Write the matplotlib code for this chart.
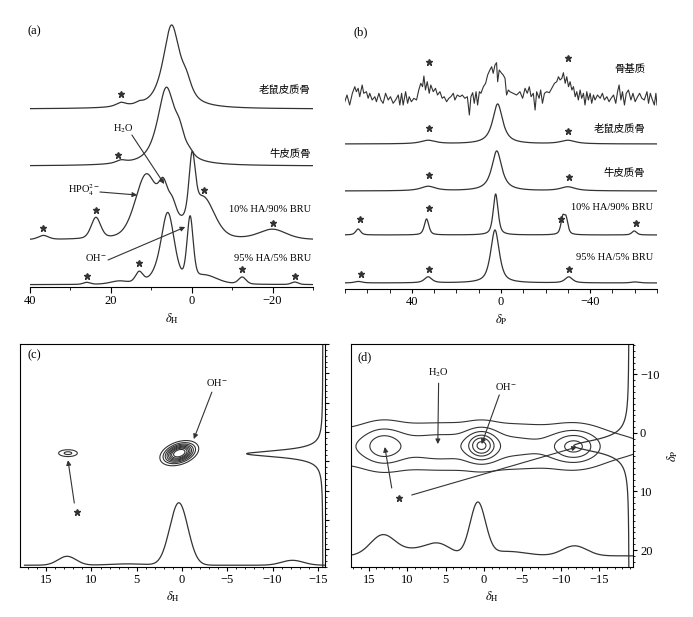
import numpy as np
import matplotlib.pyplot as plt
from matplotlib import transforms
from matplotlib.ticker import MultipleLocator, FixedLocator

plt.rcParams['font.family'] = ['Liberation Serif', 'Noto Sans CJK SC']
plt.rcParams['mathtext.fontset'] = 'stix'

LINE = '#333333'
W, H = 693, 617

# ---------------- (a) 1H MAS spectra, peaks = (shift, height, half width)
a_names = ['老鼠皮质骨', '牛皮质骨', '10% HA/90% BRU', '95% HA/5% BRU']
a_base = [178, 121, 47, 2.3]
a_eta = [0.8, 0.8, 0.3, 0.3]
a_peaks = [
    [(5.0, 82, 2.5), (1.3, 15, 1.6), (17.5, 4, 1.5), (13.0, 2, 1.0)],
    [(6.3, 76, 2.6), (3.0, 18, 1.5), (0.5, 4, 1.2), (17.5, 3, 1.5)],
    [(36.7, 4, 1.5), (23.7, 21, 1.4), (11.3, 60, 3.2), (7.0, 30, 1.3), (4.8, 18, 1.2),
     (4.0, 12, 6.0), (-0.1, 58, 0.9), (-3.0, 36, 3.2), (-20.0, 10, 4.0)],
    [(26.0, 2, 1.0), (18.0, 3, 2.5), (13.0, 11, 1.1), (9.0, 6, 2.0), (5.9, 70, 1.9),
     (0.4, 63, 0.9), (-3.5, 8, 3.5), (-12.5, 7, 1.1), (-25.5, 2.5, 1.0)],
]
a_stars = [(17.5, 193), (18.2, 132), (36.8, 59), (23.7, 77), (-3.1, 97), (-20.0, 64),
           (25.9, 11), (13.0, 24), (-12.5, 18), (-25.6, 11)]
a_label_y = [197, 133, 77, 28]

# ---------------- (b) 31P MAS spectra
b_names = ['骨基质', '老鼠皮质骨', '牛皮质骨', '10% HA/90% BRU', '95% HA/5% BRU']
b_base = [191, 145, 98, 54, 6]
b_eta = [0.9, 0.9, 0.6, 0.7]
b_peaks = [
    [(1.5, 40, 2.7), (32.7, 3.5, 4.0), (-30.0, 3.5, 4.0)],
    [(1.9, 40, 2.7), (32.7, 4.5, 4.0), (-30.0, 4.0, 4.0)],
    [(2.4, 41, 1.3), (33.4, 16, 1.2), (-27.7, 16, 1.0), (-29.2, 15, 1.0),
     (64.1, 6, 1.3), (-59.8, 4, 1.3)],
    [(2.7, 53, 2.3), (32.7, 6, 2.0), (-30.4, 6, 2.0), (64.0, 1.5, 2.0), (-60.0, 1, 2.0)],
]
# noisy bone matrix trace read point by point
bm_shift = [70.1, 69.1, 67.9, 66.7, 65.6, 64.9, 64.1, 63.4, 62.3, 61.6, 60.4, 59.6, 58.9,
            57.8, 56.6, 55.9, 54.8, 53.9, 52.9, 51.8, 50.6, 49.6, 48.4, 47.3, 46.1, 45.4,
            44.6, 43.9, 42.8, 41.9, 41.2, 40.2, 39.1, 37.9, 36.9, 36.0, 35.2, 34.6, 33.9,
            33.1, 32.2, 31.5, 30.4, 29.4, 28.5, 27.4, 26.4, 25.5, 24.4, 23.4, 22.5, 21.4,
            20.7, 19.6, 18.4, 17.4, 16.2, 15.1, 14.2, 13.5, 12.7, 12.0, 11.2, 10.5, 9.7,
            9.0, 7.9, 6.9, 6.0, 5.0, 4.2, 3.5, 2.7, 2.0, 1.5, 0.8, -0.3, -1.0, -1.8, -2.5,
            -3.3, -4.0, -5.5, -7.0, -8.5, -9.7, -10.8, -11.8, -12.7, -13.5, -14.5, -15.3,
            -16.0, -17.1, -17.8, -18.6, -19.5, -20.5, -21.7, -22.8, -24.0, -25.0, -25.8,
            -26.5, -27.3, -28.0, -28.8, -29.5, -30.3, -31.0, -31.8, -32.5, -33.3, -34.0,
            -34.7, -35.5, -36.2, -37.0, -37.7, -38.5, -39.2, -40.0, -40.7, -41.5, -42.2,
            -43.3, -44.5, -45.5, -46.4, -47.5, -48.5, -49.4, -50.5, -51.5, -52.3, -53.0,
            -53.8, -54.5, -55.4, -56.2, -57.2, -58.3, -59.2, -60.2, -61.3, -62.2, -63.2,
            -64.3, -65.5, -66.2, -67.0, -67.7, -68.8, -69.5, -70.0]
bm_int = [-3.7, 3, -7, 4.7, 11.3, 6.3, 9.7, 1.3, 13, 4.7, 6.3, -0.3, 4.7, -2, 1.3, -3.7,
          4.7, -2, -5.3, 4.7, -2, 1.3, -5.3, -2, 3, -7, 4.7, -7, 6.3, -5.3, 1.3, -3.7, -0.3,
          -2, 8, 14.7, 11.3, 22, 8, 16.3, 4.7, 13, 6.3, 9.7, 3, 6.3, -0.3, 1.3, -3.7, -0.3,
          1.3, 4.7, -2, 3, 1.3, 3, -0.3, 1.3, -17, 1.3, 5.3, -5.3, 6.3, -7, 6.3, 4.7, 11.3,
          14.7, 23, 28, 31.3, 24.7, 33, 35.3, 16.3, 28, 24.7, 23, 19.7, 3, 8, 6.3, 4.7, 3,
          6.3, -0.3, 9.7, 4.7, 11.3, 1.3, 4.7, -12, 6.3, -0.3, 8, -5.3, 4.7, 6.3, 5.3, 9.7,
          14.7, 16.3, 21.3, 18, 19.7, 25.3, 14.7, 21.3, 11.3, 16.3, 8, 11.3, 1.3, 6.3, -2,
          8, -0.3, 4.7, -7, 6.3, -2, 4.7, -5.3, 3, -2, 3, -0.3, 4.7, -2, 1.3, -3.7, -0.3, 3,
          -5.3, 6.3, 13, -2, 6.3, -7, 4.7, 8, -2, 4.7, -3.7, 1.3, 4.7, -0.3, -2, 6.3, -5.3,
          4.7, -0.3, -7, 4.7, -7]
b_stars = [(32.2, 227), (-30.1, 231), (32.2, 161), (-30.1, 158), (32.2, 114), (-30.5, 112),
           (63.1, 70), (32.4, 81), (-26.8, 70), (-60.5, 66), (62.8, 15), (32.2, 20), (-30.3, 20)]
b_label_y = [220, 160, 116, 82, 31]

# ---------------- (c) 1H-1H 2D map: (dH, dP, sH, sP, rho, amp)
c_spots = [(0.3, 3.6, 1.0, 1.0, 0.35, 1.0), (12.6, 3.6, 0.8, 0.45, 0.0, 0.23)]
c_levels = [0.1, 0.2, 0.3, 0.4, 0.5, 0.6, 0.7, 0.82]
c_proj_h = [(0.35, 0.28, 1.0), (12.7, 0.04, 1.0), (-12.2, 0.022, 1.2), (6.0, 0.006, 2.0)]
c_proj_p = (3.7, 0.25, 0.7)

# ---------------- (d) 1H-31P HETCOR
d_ridge = (3.0, 2.3, 14.0, 2.4, 0.42)
d_spots = [(13.1, 2.2, 1.7, 2.2, 0.0, 0.35), (0.3, 2.1, 1.3, 1.75, 0.0, 0.65),
           (-11.8, 2.3, 1.9, 1.8, 0.0, 0.55), (6.0, 2.8, 1.5, 1.5, 0.0, 0.04)]
d_levels = [0.1, 0.3, 0.5, 0.7, 0.85, 1.0]
d_proj_h = [(13.2, 0.09, 1.6), (8.5, 0.03, 2.5), (5.8, 0.04, 1.5), (0.8, 0.235, 1.0),
            (-3.0, 0.02, 2.5), (-11.8, 0.045, 1.6)]
d_proj_p = (2.2, 0.196, 1.3)


def pv(x, peaks, eta):
    y = np.zeros_like(x)
    for c, h, w in peaks:
        d = (x - c) / w
        y += h * (eta / (1 + d ** 2) + (1 - eta) * np.exp(-np.log(2) * d ** 2))
    return y


def gsum(x, peaks):
    y = np.zeros_like(x)
    for c, h, s in peaks:
        y += h * np.exp(-(x - c) ** 2 / (2 * s ** 2))
    return y


def spot(hh, pp, h0, p0, sh, sp, rho, amp):
    u = (hh - h0) / sh
    v = (pp - p0) / sp
    return amp * np.exp(-(u * u - 2 * rho * u * v + v * v) / (2 * (1 - rho ** 2)))


def px_axes(l, t, r, b):
    return fig.add_axes([l / W, 1 - b / H, (r - l) / W, (b - t) / H])


def arrow(ax, xy_from, xy_to):
    ax.annotate('', xy=xy_to, xytext=xy_from,
                arrowprops=dict(arrowstyle='-|>', color=LINE, lw=0.8,
                                mutation_scale=7, shrinkA=0, shrinkB=0))


fig = plt.figure(figsize=(W / 100, H / 100), dpi=100)

# ---- (a)
ax = px_axes(30, 20, 313, 287)
x = np.linspace(40, -30, 1400)
for base, eta, pk in zip(a_base, a_eta, a_peaks):
    ax.plot(x, base + pv(x, pk, eta), color=LINE, lw=0.9)
for (sx, sy) in a_stars:
    ax.plot(sx, sy, marker='*', color=LINE, ms=4.5)
for name, ly in zip(a_names, a_label_y):
    ax.text(-29.5, ly, name, ha='right', va='center', fontsize=7.5)
ax.text(16.9, 158, 'H$_2$O', ha='center', va='center', fontsize=7.5)
arrow(ax, (14.8, 152), (6.8, 103))
ax.text(26.6, 97, 'HPO$_4^{2-}$', ha='center', va='center', fontsize=7.5)
arrow(ax, (22.7, 95), (13.5, 92))
ax.text(23.7, 29, 'OH$^{-}$', ha='center', va='center', fontsize=7.5)
arrow(ax, (20.7, 27), (1.6, 60))
ax.set_xlim(40, -30)
ax.set_ylim(0, 267)
for s in ['top', 'left', 'right']:
    ax.spines[s].set_visible(False)
ax.set_yticks([])
ax.xaxis.set_major_locator(FixedLocator([40, 20, 0, -20]))
ax.xaxis.set_minor_locator(MultipleLocator(10))
ax.set_xticklabels(['40', '20', '0', '\u221220'])
ax.tick_params(axis='x', which='major', direction='out', length=4, labelsize=9, pad=2)
ax.tick_params(axis='x', which='minor', direction='out', length=2.5)
ax.set_xlabel(r'$\delta_{\rm H}$', fontsize=9, labelpad=3)

# ---- (b)
ax = px_axes(345, 20, 657, 289)
x = np.linspace(70, -70, 1400)
ax.plot(bm_shift, b_base[0] + np.array(bm_int), color=LINE, lw=0.8)
for base, eta, pk in zip(b_base[1:], b_eta, b_peaks):
    ax.plot(x, base + pv(x, pk, eta), color=LINE, lw=0.9)
for (sx, sy) in b_stars:
    ax.plot(sx, sy, marker='*', color=LINE, ms=4.5)
for i, (name, ly) in enumerate(zip(b_names, b_label_y)):
    xr = -64.7 if i < 3 else -68.2
    ax.text(xr, ly, name, ha='right', va='center', fontsize=7.5)
ax.set_xlim(70, -70)
ax.set_ylim(0, 269)
for s in ['top', 'left', 'right']:
    ax.spines[s].set_visible(False)
ax.set_yticks([])
ax.xaxis.set_major_locator(FixedLocator([40, 0, -40]))
ax.xaxis.set_minor_locator(MultipleLocator(10))
ax.set_xticklabels(['40', '0', '\u221240'])
ax.tick_params(axis='x', which='major', direction='out', length=3, labelsize=9, pad=2)
ax.tick_params(axis='x', which='minor', direction='out', length=3)
ax.set_xlabel(r'$\delta_{\rm P}$', fontsize=9, labelpad=3)

# ---- (c)
ax = px_axes(20, 344, 325, 567)
hh, pp = np.meshgrid(np.linspace(18, -16, 500), np.linspace(-15, 23, 500))
zc = sum(spot(hh, pp, *s) for s in c_spots)
ax.contour(hh, pp, zc, levels=c_levels, colors=LINE, linewidths=0.8)
hx = np.linspace(17.4, -15.8, 800)
bt = transforms.blended_transform_factory(ax.transData, ax.transAxes)
ax.plot(hx, 0.008 + gsum(hx, c_proj_h), color=LINE, lw=0.9, transform=bt)
py_ = np.linspace(-15, 23, 1200)
rt = transforms.blended_transform_factory(ax.transAxes, ax.transData)
pc, pa, pw = c_proj_p
ax.plot(0.993 - pa / (1 + ((py_ - pc) / pw) ** 2), py_, color=LINE, lw=0.9, transform=rt)
ax.text(-3.8, -8.5, 'OH$^{-}$', ha='center', va='center', fontsize=7.5)
arrow(ax, (-3.3, -6.8), (-1.3, 1.2))
ax.plot(11.6, 13.6, marker='*', color=LINE, ms=5)
arrow(ax, (11.9, 12.1), (12.6, 4.8))
ax.set_xlim(17.9, -15.8)
ax.set_ylim(23, -15)
ax.yaxis.tick_right()
ax.yaxis.set_major_locator(MultipleLocator(5))
ax.yaxis.set_minor_locator(MultipleLocator(1))
ax.set_xticks([15, 10, 5, 0, -5, -10, -15])
ax.set_xticklabels(['15', '10', '5', '0', '\u22125', '\u221210', '\u221215'])
ax.xaxis.set_minor_locator(MultipleLocator(1))
ax.tick_params(axis='y', which='both', direction='out', labelright=False)
ax.tick_params(axis='y', which='major', length=3)
ax.tick_params(axis='y', which='minor', length=1.5)
ax.tick_params(axis='x', which='major', direction='out', length=3, labelsize=9, pad=2)
ax.tick_params(axis='x', which='minor', direction='out', length=1.5)
ax.set_xlabel(r'$\delta_{\rm H}$', fontsize=9, labelpad=2)

# ---- (d)
ax = px_axes(351, 344, 633, 567)
hh, pp = np.meshgrid(np.linspace(17.3, -19.4, 500), np.linspace(-15.2, 22.9, 500))
rh, rp, rsh, rsp, ra = d_ridge
zd = ra * np.exp(-(hh - rh) ** 2 / (2 * rsh ** 2)) * np.exp(-(pp - rp) ** 2 / (2 * rsp ** 2))
zd = zd + sum(spot(hh, pp, *s) for s in d_spots)
ax.contour(hh, pp, zd, levels=d_levels, colors=LINE, linewidths=0.8)
hx = np.linspace(17.3, -19.4, 800)
bt = transforms.blended_transform_factory(ax.transData, ax.transAxes)
ax.plot(hx, 0.05 + gsum(hx, d_proj_h), color=LINE, lw=0.9, transform=bt)
py_ = np.linspace(-15.2, 22.9, 1200)
rt = transforms.blended_transform_factory(ax.transAxes, ax.transData)
pc, pa, pw = d_proj_p
ax.plot(0.986 - pa / (1 + ((py_ - pc) / pw) ** 2), py_, color=LINE, lw=0.9, transform=rt)
ax.text(5.9, -10.3, 'H$_2$O', ha='center', va='center', fontsize=7.5)
arrow(ax, (5.9, -8.5), (6.0, 1.9))
ax.text(-2.9, -8.0, 'OH$^{-}$', ha='center', va='center', fontsize=7.5)
arrow(ax, (-2.0, -6.5), (0.3, 1.9))
ax.plot(11.1, 11.1, marker='*', color=LINE, ms=5)
arrow(ax, (12.0, 9.4), (12.9, 2.4))
arrow(ax, (9.4, 10.6), (-12.1, 2.4))
ax.set_xlim(17.3, -19.4)
ax.set_ylim(22.9, -15.2)
ax.yaxis.tick_right()
ax.yaxis.set_label_position('right')
ax.set_yticks([-10, 0, 10, 20])
ax.set_yticklabels(['\u221210', '0', '10', '20'])
ax.yaxis.set_minor_locator(MultipleLocator(1))
ax.set_xticks([15, 10, 5, 0, -5, -10, -15])
ax.set_xticklabels(['15', '10', '5', '0', '\u22125', '\u221210', '\u221215'])
ax.xaxis.set_minor_locator(MultipleLocator(1))
ax.tick_params(axis='y', which='major', direction='out', length=3, labelsize=9, pad=2)
ax.tick_params(axis='y', which='minor', direction='out', length=1.5)
ax.tick_params(axis='x', which='major', direction='out', length=3, labelsize=9, pad=2)
ax.tick_params(axis='x', which='minor', direction='out', length=1.5)
ax.set_xlabel(r'$\delta_{\rm H}$', fontsize=9, labelpad=2)
ax.set_ylabel(r'$\delta_{\rm P}$', fontsize=9, labelpad=4)

for lab, lx, ly in [('(a)', 27, 31), ('(b)', 353, 32), ('(c)', 27, 355), ('(d)', 358, 357)]:
    fig.text(lx / W, 1 - ly / H, lab, ha='left', va='center', fontsize=9)

fig.savefig('out.png', dpi=100)
